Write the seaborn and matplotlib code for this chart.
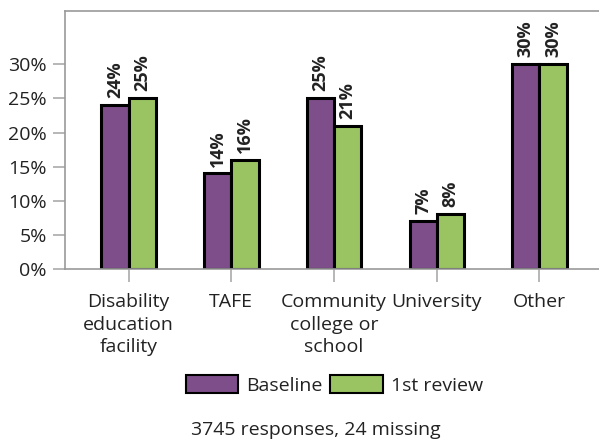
import matplotlib
matplotlib.use("Agg")
import matplotlib.pyplot as plt
import seaborn as sns
import pandas as pd
from matplotlib.patches import Patch

categories = ["Disability\neducation\nfacility", "TAFE", "Community\ncollege or\nschool", "University", "Other"]
series = ["Baseline", "1st review"]
baseline = [24, 14, 25, 7, 30]
review1 = [25, 16, 21, 8, 30]
colors = ["#7E4E8A", "#9AC461"]
footer = "3745 responses, 24 missing"

rows = []
for c, b, r in zip(categories, baseline, review1):
    rows.append({"cat": c, "series": series[0], "val": b})
    rows.append({"cat": c, "series": series[1], "val": r})
df = pd.DataFrame(rows)

sns.set_theme(style="white")
plt.rcParams["font.family"] = ["Open Sans", "DejaVu Sans"]

fig = plt.figure(figsize=(5.99, 4.41), dpi=100)
ax = fig.add_axes([0.1085, 0.39, 0.8915, 0.585])

sns.barplot(data=df, x="cat", y="val", hue="series", palette=colors,
            width=0.53, edgecolor="black", linewidth=2.2, ax=ax, legend=False,
            order=categories, hue_order=series, saturation=1)

for cont in ax.containers:
    ax.bar_label(cont, labels=[f"{int(v)}%" for v in cont.datavalues], rotation=90,
                 padding=5, fontsize=13, fontweight="bold", color="#222222")

ax.set_ylim(0, 37.8)
ax.set_xlim(-0.62, 4.58)
ax.set_yticks([0, 5, 10, 15, 20, 25, 30])
ax.set_yticklabels([f"{v}%" for v in [0, 5, 10, 15, 20, 25, 30]])
ax.set_xlabel("")
ax.set_ylabel("")
for s in ["left", "top", "bottom"]:
    ax.spines[s].set_color("#999999")
    ax.spines[s].set_linewidth(1.2)
ax.spines["right"].set_visible(False)
ax.tick_params(axis="both", which="both", length=9, width=1.2, color="#aaaaaa",
               labelsize=14, labelcolor="#222222", direction="out",
               bottom=True, left=True)
ax.tick_params(axis="x", pad=8)
ax.tick_params(axis="y", pad=4)
for lbl in ax.get_xticklabels():
    lbl.set_linespacing(1.35)

handles = [Patch(facecolor=colors[i], edgecolor="black", linewidth=1.5, label=series[i]) for i in range(2)]
fig.legend(handles=handles, loc="center", bbox_to_anchor=(0.558, 0.127), ncol=2,
           frameon=False, fontsize=14, handlelength=2.7, handleheight=1.0,
           columnspacing=0.4, handletextpad=0.4, labelcolor="#222222")

fig.text(0.527, 0.025, footer, ha="center", va="center", fontsize=14, color="#222222")

fig.savefig("out.png", dpi=100)
